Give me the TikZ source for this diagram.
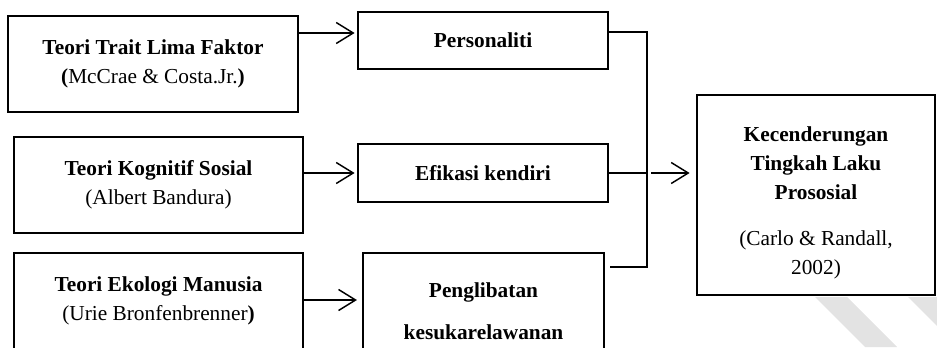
\documentclass[tikz,border=0pt]{standalone}
\usepackage{fontspec}
\setmainfont{Liberation Serif}
\usetikzlibrary{arrows.meta}

\newcommand{\pxu}{0.75pt}
\tikzset{
  box/.style={draw, line width=1.1pt, fill=white, align=center, inner sep=0pt},
  link/.style={line width=1.1pt},
  arr/.style={line width=1.1pt, -{Straight Barb[length=12.75pt,width=15.75pt,line width=1.1pt]}},
}

\begin{document}
\begin{tikzpicture}[x=\pxu, y=-\pxu, font=\fontsize{16}{21.75}\selectfont]
    \useasboundingbox (0,0) rectangle (937,347);
    \clip (0,0) rectangle (937,347);
    % watermark stripes
    \fill[gray!22] (815,297) -- (847,297) -- (897,347) -- (865,347) -- cycle;
    \fill[gray!22] (908,297) -- (940,297) -- (990,347) -- (958,347) -- cycle;

    % theories
    \node[box, minimum width=290*\pxu, minimum height=96*\pxu] (lima) at (153,64)
        {\textbf{Teori Trait Lima Faktor}\\\textbf{(}McCrae \& Costa.Jr.\textbf{)}};
    \node[box, minimum width=289*\pxu, minimum height=96*\pxu] (kognitif) at (158.5,185)
        {\textbf{Teori Kognitif Sosial}\\(Albert Bandura)};
    \node[box, minimum width=289*\pxu, minimum height=96*\pxu] (ekologi) at (158.5,301)
        {\textbf{Teori Ekologi Manusia}\\(Urie Bronfenbrenner\textbf{)}};

    % variables
    \node[box, minimum width=250*\pxu, minimum height=57*\pxu] (personaliti) at (483,40.5)
        {\textbf{Personaliti}};
    \node[box, minimum width=250*\pxu, minimum height=58*\pxu] (efikasi) at (483,173)
        {\textbf{Efikasi kendiri}};
    \node[box, minimum width=241*\pxu, minimum height=117*\pxu] (penglibatan) at (483.5,311.5)
        {\textbf{Penglibatan}\\[10pt]\textbf{kesukarelawanan}};

    % outcome
    \node[box, minimum width=238*\pxu, minimum height=200*\pxu] (prososial) at (816,195) {};
    \node[align=center, inner sep=0pt] (prososialtxt) at (816,203)
        {\textbf{Kecenderungan}\\\textbf{Tingkah Laku}\\\textbf{Prososial}\\[13pt](Carlo \& Randall,\\2002)};

    \coordinate (a1) at (0,33);
    \coordinate (a3) at (0,300);
    \coordinate (b1) at (0,32);
    \coordinate (b3) at (0,267);
    \coordinate (bus) at (647,0);

    \draw[arr, shorten >=2pt] (lima.east |- a1) -- (personaliti.west |- a1);
    \draw[arr, shorten >=2pt] (kognitif.east |- efikasi.west) -- (efikasi.west);
    \draw[arr, shorten >=4pt] (ekologi.east |- a3) -- (penglibatan.west |- a3);

    \draw[link] (personaliti.east |- b1) -- (bus |- b1) -- (bus |- b3) -- ([xshift=4pt]penglibatan.east |- b3);
    \draw[link] (efikasi.east) -- (bus |- efikasi.east);
    \draw[arr, shorten <=3pt, shorten >=5pt] (bus |- efikasi.east) -- (prososial.west |- efikasi.east);
\end{tikzpicture}
\end{document}
